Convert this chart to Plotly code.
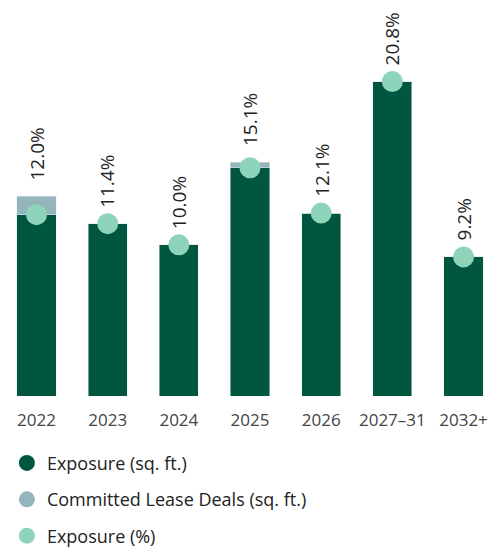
import plotly.graph_objects as go

# Lease expiry profile by year
years = ["2022", "2023", "2024", "2025", "2026", "2027–31", "2032+"]
exposure_pct = [12.0, 11.4, 10.0, 15.1, 12.1, 20.8, 9.2]
# Committed lease deals, on the same scale, stacked above exposure
committed_pct = [1.2, 0.0, 0.0, 0.35, 0.0, 0.0, 0.0]
pct_labels = ["12.0%", "11.4%", "10.0%", "15.1%", "12.1%", "20.8%", "9.2%"]

DARK_GREEN = "#00563f"
GREY_BLUE = "#94b5bb"
MINT = "#8dd4ba"
FONT = "Open Sans"

fig = go.Figure()

fig.add_trace(go.Bar(
    x=years, y=exposure_pct, marker_color=DARK_GREEN, width=0.55,
    showlegend=False, hoverinfo="skip",
))
fig.add_trace(go.Bar(
    x=years, y=committed_pct, marker_color=GREY_BLUE, width=0.55,
    showlegend=False, hoverinfo="skip",
))
fig.add_trace(go.Scatter(
    x=years, y=exposure_pct, mode="markers",
    marker=dict(color=MINT, size=21, line=dict(width=0)),
    showlegend=False, hoverinfo="skip",
))

# Legend entries drawn as circles
for name, color in [("Exposure (sq. ft.)", DARK_GREEN),
                    ("Committed Lease Deals (sq. ft.)", GREY_BLUE),
                    ("Exposure (%)", MINT)]:
    fig.add_trace(go.Scatter(
        x=[None], y=[None], mode="markers", name=name, legendgroup=name,
        marker=dict(color=color, size=19, symbol="circle"),
    ))

# Percentage labels, rotated, above each stack
totals = [e + c for e, c in zip(exposure_pct, committed_pct)]
for i, (tot, lab) in enumerate(zip(totals, pct_labels)):
    fig.add_annotation(
        x=i, y=tot, text=lab, textangle=-90, showarrow=False,
        xanchor="center", yanchor="bottom", yshift=14,
        font=dict(family=FONT, size=19, color="#222222"),
    )

fig.update_layout(
    width=492, height=552,
    margin=dict(l=0, r=0, t=0, b=156, autoexpand=False),
    barmode="stack",
    plot_bgcolor="white", paper_bgcolor="white",
    font=dict(family=FONT, size=17, color="#222222"),
    xaxis=dict(
        type="category",
        range=[-0.513, 6.4], showgrid=False, zeroline=False, showline=False,
        ticks="", tickfont=dict(family=FONT, size=17, color="#444444"),
        ticklabelstandoff=12, automargin=False,
    ),
    yaxis=dict(range=[0, 26.2], visible=False),
    legend=dict(
        x=0.014, xanchor="left", y=-0.123, yanchor="top",
        orientation="v", tracegroupgap=10, itemsizing="trace",
        font=dict(family=FONT, size=18, color="#222222"),
    ),
)

fig.write_html("out.html")
